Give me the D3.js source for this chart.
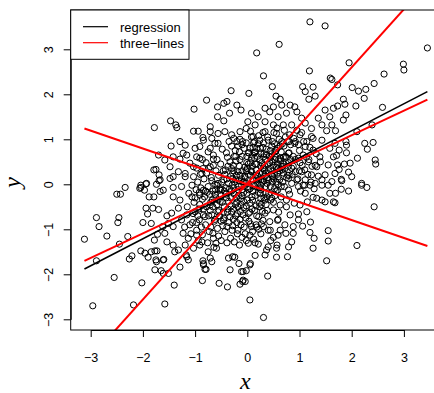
<!DOCTYPE html>
<html>
<head>
<meta charset="utf-8">
<script src="https://cdn.jsdelivr.net/npm/d3@7"></script>
<style>
  body { margin: 0; background: #fff; }
  svg { display: block; }
  text { font-family: "Liberation Sans", Arial, sans-serif; }
</style>
</head>
<body>
<div id="viz_div"></div>
<script>
// POINTS (x, y)
// ---------------------------------------------------------------------------------------------------------------------------------
const outerPoints = [
  [1.20,3.61],[1.49,3.52],[3.45,3.03],[0.61,3.11],[0.18,2.92],[1.19,2.52],[0.31,2.41],[0.03,2.02],[0.48,2.17],[1.06,2.17],[1.26,2.16],[1.11,2.06],[1.30,1.96],[1.18,1.89],[1.59,2.36],[1.62,2.33],[0.55,1.96],[0.63,1.89],
  [1.95,2.70],[2.99,2.67],[3.00,2.54],[2.62,2.45],[2.43,2.24],[2.27,2.11],[2.13,2.07],[2.01,2.15],[2.24,1.91],[1.73,2.21],[1.84,1.89],[1.87,1.78],[1.73,1.74],[2.08,1.74],[2.59,1.71],[1.89,1.54],[1.84,1.43],[1.69,1.19],[2.39,1.32],[2.10,1.17],[1.89,0.95],[1.90,0.87],[2.25,0.91],[2.41,0.93],[2.30,0.78],[1.90,0.70],[1.76,0.76],[1.71,0.64],[2.11,0.58],[2.45,0.54],[2.46,0.45],[1.97,0.47],[1.86,0.45],[1.73,0.43],[1.76,0.33],[1.94,0.27],[2.00,0.17],[1.80,0.11],[2.19,0.02],
  [2.19,-0.02],[2.29,-0.07],[1.80,-0.11],[1.94,-0.15],[1.81,0.08],[1.69,-0.20],[1.68,-0.41],[2.43,-0.50],[2.10,-1.36],
  [0.31,-2.96],[0.05,-2.57],[0.39,-2.04],[1.52,-1.70],[1.26,-1.42],[1.55,-1.26],[1.55,-1.03],[1.28,-1.20],[1.20,-1.07],[1.21,-0.84],[1.06,-0.93],[1.14,-0.61],[0.77,-1.61],[0.56,-1.62],[0.34,-1.57],[0.15,-1.58],[0.06,-1.76],[-0.02,-1.92],[-0.04,-2.16],[0.79,-1.39],[0.85,-1.28],[0.88,-1.09],[0.74,-1.09],[0.57,-1.35],[0.56,-1.42],[0.40,-1.39],[0.45,-1.25],[0.50,-1.18],[0.59,-1.13],[0.26,-1.10],[0.15,-1.30],[0.02,-1.31],[0.05,-1.13],[0.21,-1.33],[0.37,-1.46],[0.98,-0.79],[0.98,-0.66],[0.82,-0.68],[0.72,-0.90],[0.88,-0.94],[0.59,-0.78],[0.43,-0.83],[0.40,-1.02],[0.63,-1.02],[1.49,-0.39],[1.65,-0.39],[1.58,-0.20],[1.33,-0.31],[1.26,-0.29],[1.43,-0.35],[1.15,-0.39],[1.01,-0.46],[1.11,-0.20],[1.43,-0.02],[1.20,-0.02],[1.07,-0.02],[1.30,0.02],[1.55,-0.02],[0.98,-0.05],[0.79,-0.13],[0.58,-0.13],[0.75,-0.35],[0.63,-0.46],[0.50,-0.57],[0.34,-0.64],[0.24,-0.50],[0.34,-0.35],[0.47,-0.31],[0.31,-0.94],[0.08,-0.94],
  [-1.58,-2.66],[-1.40,-2.24],[-0.86,-2.14],[-0.54,-2.20],[-0.38,-2.28],[-0.14,-2.22],[-0.08,-2.13],[-0.33,-1.90],[-0.16,-1.76],[-0.11,-1.94],[-0.36,-1.64],[-0.28,-1.61],[-0.84,-1.79],[-0.81,-1.89],[-0.85,-1.70],[-0.71,-1.64],[-0.68,-1.72],[-0.59,-1.42],[-0.60,-1.31],[-0.65,-1.20],[-0.66,-1.09],[-0.75,-1.50],[-1.13,-1.68],[-1.29,-1.84],[-1.51,-1.98],[-1.61,-1.68],[-1.39,-1.50],[-1.17,-1.57],[-1.03,-1.42],[-0.87,-1.28],[-0.97,-1.13],[-1.23,-1.09],[-1.13,-1.20],[-1.54,-1.28],[-1.58,-1.09],[-1.42,-0.94],[-1.51,-0.87],[-1.26,-0.79],[-1.10,-0.90],[-0.92,-0.79],[-0.84,-0.68],[-1.00,-0.61],[-1.16,-0.68],[-1.45,-0.64],[-1.32,-0.53],[-1.29,-0.35],[-1.42,-0.28],[-1.06,-0.28],[-0.91,-0.24],[-0.71,-0.46],[-0.56,-0.61],[-0.46,-0.79],[-0.39,-0.94],[-1.42,-0.07],[-1.26,-0.05],[-1.61,-0.13],[-1.06,-0.02],[-0.84,-0.13],[-0.52,-0.13],
  [-3.12,-1.22],[-2.96,-2.70],[-2.89,-1.70],[-2.89,-0.74],[-2.84,-0.94],[-2.69,-1.15],[-2.48,-0.85],[-2.46,-0.74],[-2.50,-0.22],[-2.43,-0.22],[-2.34,-0.07],[-2.45,-1.33],[-2.55,-2.07],[-2.29,-1.16],[-2.18,-2.68],[-2.02,-2.19],[-2.26,-1.66],[-2.21,-1.59],[-2.04,-0.02],[-1.97,-0.13],[-1.88,-0.28],[-1.94,-0.53],[-1.81,-0.53],[-1.70,-0.56],[-1.91,-0.66],[-2.00,-0.85],[-1.84,-0.87],[-2.04,-1.48],[-1.96,-1.53],[-1.90,-1.62],[-1.84,-1.50],[-1.75,-1.68],[-1.73,-1.48],[-1.78,-1.24],[-1.72,-1.11],[-1.65,-1.92],
  [-1.78,1.26],[-1.70,0.65],[-1.75,0.33],[-1.69,0.21],[-1.69,0.08],[-1.94,0.01],[-2.04,-0.07],
  [-0.31,2.08],[-0.78,1.87],[-1.02,1.67],[-0.57,1.72],[-0.45,1.80],[-0.39,1.84],[-0.20,1.76],[-0.12,1.65],[-0.34,1.58],[-0.57,1.50],[-0.45,1.41],[-1.47,1.41],[-1.37,1.32],[-1.35,1.26],[-1.03,1.18],[-0.94,1.18],[-0.71,1.28],[-0.71,1.17],[-0.85,1.04],[-0.68,1.02],[-0.56,1.13],[-0.43,1.17],[-0.30,1.10],[-0.14,1.17],[-0.02,1.24],[-1.29,0.95],[-1.19,0.87],[-1.46,0.85],[-1.00,0.80],[-0.71,0.80],[-0.56,0.91],[-1.23,0.69],[-1.42,0.61],[-1.58,0.54],[-0.91,0.58],[-0.65,0.56],[-1.10,0.47],[-1.48,0.39],[-1.32,0.28],[-1.19,0.17],[-1.42,0.17],[-0.97,0.36],[-1.03,0.17],[-0.87,0.24],[-0.71,0.39],
  [-0.84,0.98],[-2.06,-0.09],[-1.93,0.02],[-1.74,0.00],[-1.67,-0.16],[-1.79,0.32],[-1.67,0.10],[-1.48,0.13],[-1.19,0.24],[-1.03,0.39],[-1.29,0.56],[-1.16,0.65],[-0.97,0.61],[-0.91,0.84],[-0.75,0.72],[-0.62,0.91],
  [-1.79,-0.28],[-1.54,-0.70],[-1.62,-0.94],[-1.77,-1.48],[-1.74,-1.72],[-1.77,-1.90],[-1.61,-1.98],[-1.60,-1.67],[-1.42,-1.35],[-1.32,-1.46],[-1.19,-1.35],[-1.16,-1.61],[-0.97,-1.02],[-0.91,-1.35],[-0.84,-1.76],[-0.79,-1.89],
  [-0.09,-2.16],[-0.08,-1.94],[-0.24,-1.62],[0.05,-1.79]
];

const upperRightPoints = [
  [0.34,1.69],[0.43,1.61],[0.50,1.72],[0.66,1.76],[0.82,1.76],[0.91,1.72],[0.95,1.61],[0.75,1.58],[0.59,1.50],[0.21,1.50],[0.08,1.58],[1.36,1.47],[1.49,1.65],[1.65,1.69],[1.58,1.50],[1.43,1.32],[1.62,1.32],[1.52,1.19],[1.11,1.36],[1.04,1.47],[1.23,1.24],[0.85,1.32],[0.69,1.32],[0.50,1.32],[0.34,1.39],[0.15,1.32],[0.01,1.39],
  [1.43,0.98],[1.68,0.91],[1.58,0.80],[1.23,1.06],[1.01,1.10],[0.91,0.91],[1.11,0.84],[1.26,0.76],[1.39,0.61],[1.65,0.61],[1.55,0.43],[1.33,0.39],[1.17,0.50],[0.98,0.58],[0.79,0.69],[0.66,0.95],[0.56,1.13],[0.34,1.17],[0.24,0.98],[0.11,1.06],
  [1.68,0.24],[1.49,0.21],[1.23,0.21],[1.04,0.28],[0.85,0.36],[0.66,0.39],[0.47,0.50],[0.31,0.61],[0.15,0.72],[1.62,0.06],[1.43,0.10],[1.11,0.10],[0.79,0.13],[0.59,0.17]
];

const corePoints = [
  [-1.05,-0.85],[-1.02,-0.40],[-0.98,-0.12],[-0.95,0.05],[-0.93,-0.55],[-0.90,0.22],[-0.88,-0.95],[-0.86,-0.33],[-0.83,0.12],[-0.81,-0.72],[-0.79,0.48],[-0.77,-0.18],[-0.75,-0.05],[-0.73,-1.05],[-0.71,-0.58],[-0.69,0.15],[-0.67,-0.35],[-0.65,0.65],[-0.63,-0.82],[-0.61,-0.12],[-0.60,0.30],[-0.58,-0.45],[-0.56,0.02],[-0.55,-1.15],[-0.53,-0.70],[-0.51,0.45],[-0.50,-0.25],[-0.48,0.78],[-0.47,-0.92],[-0.45,0.10],[-0.44,-0.50],[-0.42,0.32],[-0.41,-0.08],[-0.39,-1.30],[-0.38,0.60],[-0.36,-0.38],[-0.35,0.95],[-0.33,-0.72],[-0.32,0.18],[-0.30,-0.15],[-0.29,-1.02],[-0.27,0.42],[-0.26,-0.55],[-0.24,0.05],[-0.23,0.75],[-0.21,-0.30],[-0.20,-0.85],[-0.18,0.28],[-0.17,-0.05],[-0.15,-1.35],[-0.14,0.55],[-0.12,-0.45],[-0.11,0.12],[-0.10,0.88],[-0.08,-0.68],[-0.07,-0.18],[-0.05,0.38],[-0.04,-1.10],[-0.02,0.02],[-0.01,0.62],[0.00,-0.35],[0.02,0.22],[0.03,-0.82],[0.05,-0.10],[0.06,0.48],[0.08,1.05],[0.09,-0.55],[0.11,0.10],[0.12,-1.22],[0.14,0.70],[0.15,-0.25],[0.17,0.32],[0.18,-0.70],[0.20,0.02],[0.21,0.90],[0.23,-0.42],[0.24,0.55],[0.26,-0.12],[0.27,-0.88],[0.29,0.25],[0.30,1.15],[0.32,-0.30],[0.33,0.42],[0.35,-0.05],[0.36,0.78],[0.38,-0.58],[0.39,0.15],[0.41,-0.20],[0.42,0.62],[0.44,-1.02],[0.45,0.35],[0.47,0.05],[0.48,0.95],[0.50,-0.40],[0.52,0.22],[0.53,0.72],[0.55,-0.15],[0.57,1.25],[0.58,0.45],[0.60,-0.62],[0.62,0.10],[0.63,0.85],[0.65,-0.28],[0.67,0.32],[0.69,0.60],[0.71,-0.05],[0.73,1.05],[0.75,-0.50],[0.77,0.20],[0.79,0.48],[0.81,-0.22],[0.83,0.88],[0.85,0.02],[0.88,0.62],[0.90,-0.42],[0.92,0.28],[0.95,1.20],[0.97,0.12],[1.00,0.75],[1.02,-0.15],[1.05,0.42],[1.08,0.95],[1.10,-0.02],[1.13,0.60],[1.16,0.22],[1.20,0.82],[1.24,0.40],[1.28,-0.10],[1.32,0.68],[1.36,0.18],[1.40,0.50],
  [-0.58,-0.02],[-0.55,0.20],[-0.52,-0.38],[-0.49,0.05],[-0.46,-0.62],[-0.43,0.22],[-0.40,-0.30],[-0.37,0.40],[-0.34,-0.10],[-0.31,-0.48],[-0.28,0.12],[-0.25,-0.22],[-0.22,0.52],[-0.19,-0.65],[-0.16,0.08],[-0.13,-0.32],[-0.10,0.30],[-0.07,-0.52],[-0.04,0.15],[-0.01,-0.20],[0.02,0.45],[0.05,-0.42],[0.08,0.28],[0.11,-0.15],[0.14,0.58],[0.17,-0.48],[0.20,0.18],[0.23,-0.08],[0.26,0.40],[0.29,-0.60],[0.32,0.08],[0.35,0.55],[0.38,-0.28],[0.41,0.30],[0.44,-0.05],[0.47,0.68],[0.50,0.12],[0.53,-0.25],[0.56,0.38],[0.59,0.00],
  [-0.62,-0.22],[-0.44,-0.15],[-0.26,0.30],[-0.08,0.05],[0.10,-0.35],[0.28,0.48],[0.46,0.20],[0.64,0.52],[-0.70,-0.40],[-0.36,0.02],[-0.18,-0.12],[0.00,0.35],[0.18,0.12],[0.36,-0.45],[0.54,0.60],[-0.80,-0.15],[-0.65,0.42],[-0.20,0.95],[0.05,0.80],[0.22,-1.00],[0.40,0.98],[0.68,0.05],[0.88,0.40],[-0.85,0.35],[-0.68,-0.68],[-0.50,-0.82],[-0.30,-0.62],[-0.12,-0.90],[0.25,-0.20],[0.58,-0.80],[0.80,0.70],[1.00,0.30],[-0.95,-0.70],[-0.78,-0.50],[-0.62,0.00],[-0.40,0.70],[-0.15,0.72],[0.12,0.92],[0.32,0.68],[0.52,0.90],[0.72,0.35],[0.92,0.95]
];

const diagonalPoints = [
  [-1.20,-0.95],[-1.15,-0.50],[-1.12,-0.20],[-1.08,-1.10],[-1.04,-0.65],[-1.00,-0.30],[-0.97,-0.85],[-0.94,-1.25],[-0.91,-0.45],[-0.89,-0.08],[-0.86,-1.12],[-0.84,-0.55],[-0.82,-0.28],[-0.80,-0.90],[-0.78,0.25],[-0.76,-1.30],[-0.74,-0.70],[-0.72,-0.22],[-0.70,-0.95],[-0.68,0.08],[-0.66,-0.50],[-0.64,-1.40],[-0.62,-0.78],[-0.60,-0.30],[-0.58,0.55],[-0.57,-0.98],[-0.54,-0.58],[-0.52,-0.10],[-0.50,-1.25],[-0.48,-0.40],[-0.46,0.30],[-0.45,-0.75],[-0.43,-1.05],[-0.41,-0.22],[-0.39,0.12],[-0.37,-0.55],[-0.35,-0.85],[-0.33,0.50],[-0.31,-0.30],[-0.29,-0.02],[-0.27,-0.78],[-0.25,0.62],[-0.23,-0.45],[-0.21,0.20],[-0.19,-1.10],[-0.17,-0.25],[-0.15,0.40],[-0.13,-0.60],[-0.11,-0.02],[-0.09,0.95],[-0.07,-0.38],[-0.05,0.18],[-0.03,-0.75],[-0.01,0.48],[0.01,-0.05],[0.03,0.70],[0.05,-0.62],[0.07,0.30],[0.09,-0.28],[0.11,0.82],[0.13,-0.02],[0.15,0.45],[0.17,-0.90],[0.19,0.62],[0.21,-0.18],[0.23,0.25],[0.25,0.80],[0.27,-0.45],[0.29,0.05],[0.31,0.92],[0.33,0.32],[0.35,-0.20],[0.37,0.65],[0.39,1.05],[0.41,0.10],[0.43,0.48],[0.45,-0.35],[0.47,0.85],[0.49,0.30],[0.51,1.15],[0.53,0.55],[0.55,0.05],[0.57,0.80],[0.59,0.35],[0.61,1.00],[0.63,0.58],[0.65,-0.05],[0.67,0.90],[0.69,0.25],[0.71,1.20],[0.73,0.62],[0.75,0.15],[0.77,0.95],[0.79,0.40],[0.81,1.10],[0.83,0.55],[0.86,0.22],[0.89,1.02],[0.92,0.55],[0.95,0.10],[0.98,0.88],[1.01,0.48],[1.04,1.15],[1.07,0.65],[1.10,0.32],[1.14,0.95],[1.18,0.55],[1.22,0.05],[1.26,1.02],[1.30,0.42],
  [-0.92,-0.18],[-0.74,0.35],[-0.56,-0.35],[-0.38,-0.62],[-0.20,-0.40],[-0.02,-0.48],[0.16,0.20],[0.34,0.18],[0.52,-0.10],[0.70,0.45],[-0.86,0.55],[-0.66,-0.15],[-0.48,-0.12],[-0.28,0.25],[-0.10,-0.12],[0.08,0.58],[0.26,0.10],[0.44,0.75],[0.62,0.30],[0.80,0.20]
];

// dense band round x = 0
const centerBandPoints = [
  [-0.32,-1.20],[-0.28,-0.92],[-0.25,-1.28],[-0.22,-0.70],[-0.18,-1.02],[-0.14,-0.78],[-0.10,-1.18],[-0.06,-0.95],[-0.02,-1.25],[0.02,-0.65],[0.06,-0.88],[0.10,-1.05],[0.14,-0.58],[0.18,-0.95],[0.22,-0.72],[0.26,-0.32],[0.30,-0.80],
  [-0.30,0.85],[-0.26,1.02],[-0.22,0.62],[-0.18,0.85],[-0.14,1.00],[-0.10,0.62],[-0.06,0.80],[-0.02,0.92],[0.02,0.70],[0.06,1.18],[0.10,0.65],[0.14,0.95],[0.18,0.80],[0.22,1.08],[0.26,0.68],[0.30,0.82],
  [-0.30,0.35],[-0.26,-0.08],[-0.22,0.10],[-0.18,-0.50],[-0.14,0.20],[-0.10,-0.25],[-0.06,0.05],[-0.02,0.30],[0.02,-0.12],[0.06,0.20],[0.10,0.40],[0.14,-0.05],[0.18,0.45],[0.22,0.10],[0.26,-0.02],[0.30,0.35],
  [0.35,0.25],[0.40,0.45],[0.45,0.60],[0.50,0.42],[0.55,0.75],[0.60,0.55],[0.65,0.72],[0.70,0.85],[0.75,0.60],[0.80,0.95],[0.38,0.02],[0.48,0.18],[0.58,0.25],[0.68,0.40]
];

// LINES: y = a + b * x, drawn over the x range of the data
const lineNames = ["regression", "three-lines", "three-lines", "three-lines"];
const lineIntercepts = [-0.01, 0.02, 0.00, 0.00];
const lineSlopes = [0.60, 1.29, 0.546, -0.397];
const lineXRange = [-3.12, 3.45];

const legendLabels = ["regression", "three\u2212lines"];
const xTicks = [-3, -2, -1, 0, 1, 2, 3];
const yTicks = [-3, -2, -1, 0, 1, 2, 3];

// SCALERS
// ---------------------------------------------------------------------------------------------------------------------------------
const W = 434, H = 393;
const box = { left: 70.7, top: 10, right: 445, bottom: 330 };
const x = d3.scaleLinear([-3, 3], [90.7, 403.9]);
const y = d3.scaleLinear([-3, 3], [319.3, 49.3]);
const color = d3.scaleOrdinal(["regression", "three-lines"], ["#000000", "#FF0000"]);
const fmt = d => d < 0 ? "\u2212" + Math.abs(d) : String(d);

const svg = d3.select("#viz_div").append("svg")
    .attr("width", W)
    .attr("height", H);

svg.append("clipPath").attr("id", "plotclip")
  .append("rect")
    .attr("x", box.left).attr("y", box.top)
    .attr("width", box.right - box.left).attr("height", box.bottom - box.top);

const plot = svg.append("g").attr("clip-path", "url(#plotclip)");

// POINTS
// ---------------------------------------------------------------------------------------------------------------------------------
const allPoints = outerPoints.concat(upperRightPoints, corePoints, diagonalPoints, centerBandPoints);
plot.selectAll("circle.pt")
  .data(allPoints)
  .enter()
  .append("circle")
    .attr("class", "pt")
    .attr("cx", d => x(d[0]))
    .attr("cy", d => y(d[1]))
    .attr("r", 3.1)
    .attr("fill", "none")
    .attr("stroke", "#000")
    .attr("stroke-width", 1);

// LINES
// ---------------------------------------------------------------------------------------------------------------------------------
const lineData = lineNames.map((name, i) => ({
  name: name,
  pts: lineXRange.map(v => [v, lineIntercepts[i] + lineSlopes[i] * v])
}));

plot.selectAll("path.fit")
  .data(lineData)
  .enter()
  .append("path")
    .attr("class", "fit")
    .attr("fill", "none")
    .attr("stroke", d => color(d.name))
    .attr("stroke-width", d => d.name === "regression" ? 1.6 : 2)
    .attr("d", d => d3.line().x(p => x(p[0])).y(p => y(p[1]))(d.pts));

// BOX AND AXES
// ---------------------------------------------------------------------------------------------------------------------------------
svg.append("rect")
    .attr("x", box.left).attr("y", box.top)
    .attr("width", box.right - box.left).attr("height", box.bottom - box.top)
    .attr("fill", "none")
    .attr("stroke", "#000")
    .attr("stroke-width", 1);

const xAxis = svg.append("g")
    .attr("transform", `translate(0,${box.bottom})`)
    .call(d3.axisBottom(x).tickValues(xTicks).tickSize(7).tickSizeOuter(0).tickPadding(16).tickFormat(fmt));
xAxis.selectAll("text").attr("font-size", 12.5).attr("font-family", "Liberation Sans, Arial, sans-serif").attr("fill", "#000");

const yAxis = svg.append("g")
    .attr("transform", `translate(${box.left},0)`)
    .call(d3.axisLeft(y).tickValues(yTicks).tickSize(7).tickSizeOuter(0).tickFormat(fmt));
yAxis.selectAll("text")
    .attr("font-size", 12.5)
    .attr("font-family", "Liberation Sans, Arial, sans-serif")
    .attr("fill", "#000")
    .attr("x", null).attr("dy", null)
    .attr("text-anchor", "middle")
    .attr("transform", "translate(-18,0) rotate(-90)")
    .attr("y", 0);
svg.selectAll(".domain, .tick line").attr("stroke", "#000");

// AXIS TITLES
// ---------------------------------------------------------------------------------------------------------------------------------
svg.append("text")
    .attr("x", x(0) - 2)
    .attr("y", 389)
    .attr("text-anchor", "middle")
    .style("font-family", "'Liberation Serif', 'DejaVu Serif', serif")
    .style("font-style", "italic")
    .style("font-size", "24px")
    .text("x");

svg.append("text")
    .attr("transform", `translate(20,${y(0) - 2}) rotate(-90)`)
    .attr("text-anchor", "middle")
    .style("font-family", "'Liberation Serif', 'DejaVu Serif', serif")
    .style("font-style", "italic")
    .style("font-size", "24px")
    .text("y");

// LEGEND
// ---------------------------------------------------------------------------------------------------------------------------------
const legend = svg.append("g");
legend.append("rect")
    .attr("x", box.left).attr("y", box.top)
    .attr("width", 118.3).attr("height", 49.3)
    .attr("fill", "#fff")
    .attr("stroke", "#000");

legend.selectAll("line")
  .data(legendLabels)
  .enter()
  .append("line")
    .attr("x1", 83).attr("x2", 108)
    .attr("y1", (d, i) => 26.7 + i * 16)
    .attr("y2", (d, i) => 26.7 + i * 16)
    .attr("stroke", (d, i) => i === 0 ? "#000" : "#FF0000")
    .attr("stroke-width", 1.2);

legend.selectAll("text")
  .data(legendLabels)
  .enter()
  .append("text")
    .attr("x", 120)
    .attr("y", (d, i) => 31.5 + i * 16)
    .attr("font-size", 13)
    .text(d => d);
</script>
</body>
</html>
